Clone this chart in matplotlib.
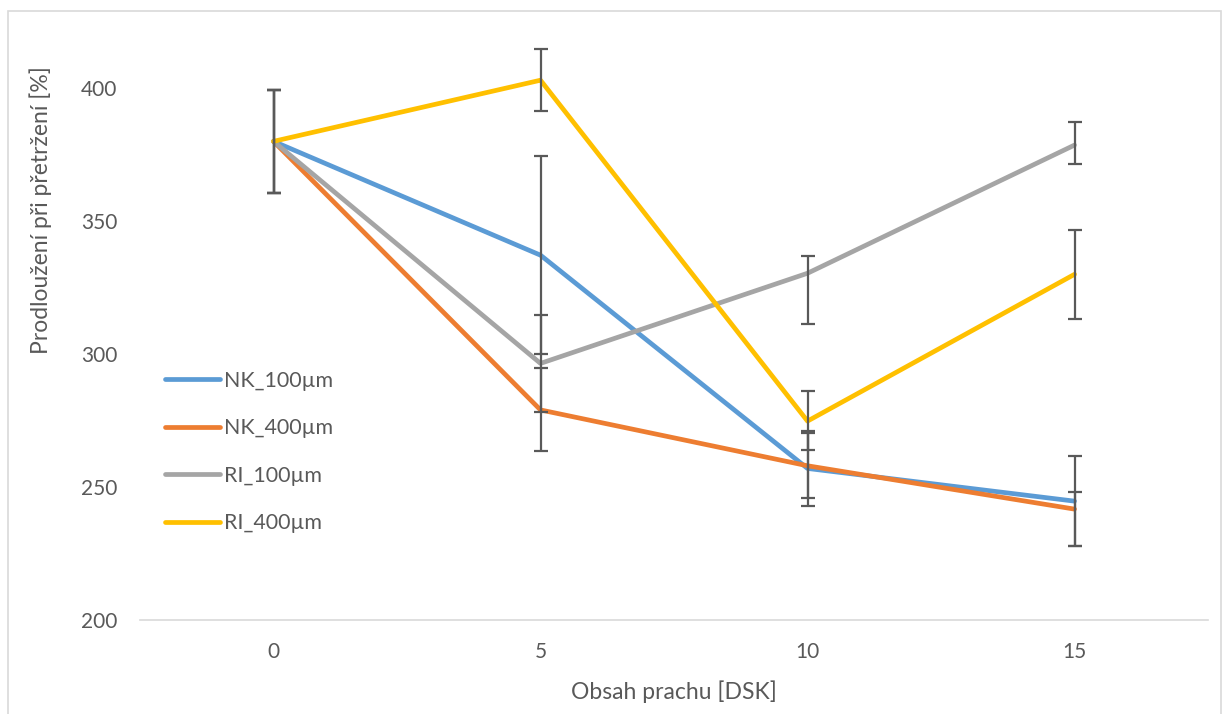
import matplotlib.pyplot as plt
import numpy as np
from matplotlib.patches import Rectangle

plt.rcParams['font.family'] = ['Lato', 'DejaVu Sans']

categories = ['0', '5', '10', '15']
series_names = ['NK_100µm', 'NK_400µm', 'RI_100µm', 'RI_400µm']
colors = ['#5B9BD5', '#ED7D31', '#A5A5A5', '#FFC000']

# mean elongation at break [%]
nk_100 = [380, 337.2, 257.0, 244.7]
nk_400 = [380, 279.0, 258.0, 241.7]
ri_100 = [380, 296.5, 330.4, 378.6]
ri_400 = [380, 403.0, 274.8, 330.0]

# error bar lengths (below, above)
nk_100_err = [[19.5, 37.2, 14.0, 17.0], [19.5, 37.2, 14.0, 17.0]]
nk_400_err = [[19.5, 15.6, 12.3, 13.7], [19.5, 15.6, 12.5, 6.5]]
ri_100_err = [[19.5, 18.2, 18.9, 7.0], [19.5, 18.2, 6.6, 8.5]]
ri_400_err = [[19.5, 11.5, 11.0, 16.8], [19.5, 11.7, 11.3, 16.6]]

values = [nk_100, nk_400, ri_100, ri_400]
errors = [nk_100_err, nk_400_err, ri_100_err, ri_400_err]

txt = '#595959'

fig = plt.figure(figsize=(12.26, 7.14), dpi=100)
ax = fig.add_axes([140/1226, 1 - 620/714, 1068/1226, 585/714])

x = np.arange(len(categories))
handles = []
for name, vals, col in zip(series_names, values, colors):
    h, = ax.plot(x, vals, color=col, lw=3.4, solid_capstyle='round', zorder=3, label=name)
    handles.append(h)
for vals, err in zip(values, errors):
    ax.errorbar(x, vals, yerr=np.array(err), fmt='none', ecolor='#595959',
                elinewidth=1.6, capsize=4.8, capthick=1.6, zorder=4)

ax.set_xlim(-0.5, 3.5)
ax.set_ylim(200, 420)
ax.set_yticks([200, 250, 300, 350, 400])
ax.set_xticks(x)
ax.set_xticklabels(categories)
ax.tick_params(axis='both', length=0, labelsize=15, labelcolor=txt)
ax.tick_params(axis='y', pad=16.5)
ax.tick_params(axis='x', pad=16)
for s in ['top', 'right', 'left']:
    ax.spines[s].set_visible(False)
ax.spines['bottom'].set_color('#D9D9D9')
ax.spines['bottom'].set_linewidth(1.2)

ax.set_xlabel('Obsah prachu [DSK]', fontsize=16.5, color=txt)
ax.xaxis.set_label_coords(0.5, -0.104)
ax.set_ylabel('Prodloužení při přetržení [%]', fontsize=16.5, color=txt)
ax.yaxis.set_label_coords(-0.082, 0.70)

leg = ax.legend(handles=handles, loc='upper left', bbox_to_anchor=(0.015, 0.441),
                frameon=False, fontsize=15.4, labelspacing=1.29, handlelength=2.57,
                handletextpad=0.2, borderaxespad=0)
for t in leg.get_texts():
    t.set_color(txt)

# outer chart border
fig.patches.append(Rectangle((8/1226, -0.01), 1213/1226, 1 - 11/714 + 0.01,
                             transform=fig.transFigure, fill=False,
                             edgecolor='#D9D9D9', lw=1.2))

fig.savefig('out.png', dpi=100)
